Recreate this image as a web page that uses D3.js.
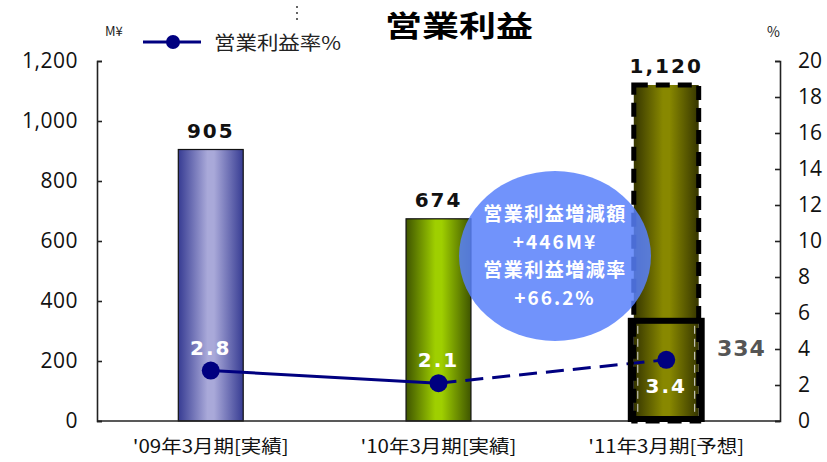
<!DOCTYPE html>
<html>
<head>
<meta charset="utf-8">
<script src="https://cdn.jsdelivr.net/npm/d3@7/dist/d3.min.js"></script>
<style>
  html, body { margin: 0; padding: 0; background: #fff; }
  svg { display: block; font-family: "Noto Sans CJK JP", "Noto Sans", sans-serif; }
</style>
</head>
<body>
<svg id="chart" width="827" height="462"></svg>
<script>
// Operating profit (M¥) and operating margin (%) by fiscal year
const categories = ["'09年3月期[実績]", "'10年3月期[実績]", "'11年3月期[予想]"];
const profit = [905, 674, 1120];
const margin = [2.8, 2.1, 3.4];
const profitLabels = ["905", "674", "1,120"];
const marginLabels = ["2.8", "2.1", "3.4"];
const leftTicks = [0, 200, 400, 600, 800, 1000, 1200];
const rightTicks = [0, 2, 4, 6, 8, 10, 12, 14, 16, 18, 20];
const forecastPart = 334;           // portion highlighted within the forecast bar
const bubbleLines = ["営業利益増減額", "+446M¥", "営業利益増減率", "+66.2%"];

const svg = d3.select("#chart");
const plotLeft = 97, plotRight = 780, plotTop = 61, plotBottom = 421;
const numFont = "'DejaVu Sans', Verdana, sans-serif";
const tickFont = "'Open Sans', 'Noto Sans', sans-serif";

const x = d3.scaleBand().domain(categories).range([plotLeft, plotRight]).paddingInner(0.715).paddingOuter(0.357);
const y = d3.scaleLinear().domain([0, 1200]).range([plotBottom, plotTop]);
const y2 = d3.scaleLinear().domain([0, 20]).range([plotBottom, plotTop]);
const cx = c => x(c) + x.bandwidth() / 2;

// horizontal gradients for the cylinder-like bars
const defs = svg.append("defs");
const gradStops = [
  ["g0", "#373c93", "#a9a9d9"],
  ["g1", "#3f5500", "#9fcf00"],
  ["g2", "#353500", "#888800"]
];
gradStops.forEach(([id, edge, mid]) => {
  const g = defs.append("linearGradient").attr("id", id).attr("x1", "0").attr("x2", "1").attr("y1", "0").attr("y2", "0");
  g.append("stop").attr("offset", "0%").attr("stop-color", edge);
  g.append("stop").attr("offset", "45%").attr("stop-color", mid);
  g.append("stop").attr("offset", "55%").attr("stop-color", mid);
  g.append("stop").attr("offset", "100%").attr("stop-color", edge);
});

// bars
svg.append("g").selectAll("rect").data(profit).join("rect")
  .attr("x", (d, i) => x(categories[i]))
  .attr("y", d => y(d))
  .attr("width", x.bandwidth())
  .attr("height", d => y(0) - y(d))
  .attr("fill", (d, i) => `url(#g${i})`)
  .attr("stroke", (d, i) => i === 2 ? "none" : "#111")
  .attr("stroke-width", 1.2);

// forecast bar: thick dashed outline
svg.append("rect")
  .attr("x", x(categories[2]))
  .attr("y", y(profit[2]))
  .attr("width", x.bandwidth())
  .attr("height", y(0) - y(profit[2]))
  .attr("fill", "none")
  .attr("stroke", "#000")
  .attr("stroke-width", 5)
  .attr("stroke-dasharray", "14,8");

// bar value labels
svg.append("g").selectAll("text").data(profit).join("text")
  .attr("x", (d, i) => cx(categories[i]))
  .attr("y", d => y(d) - 12)
  .attr("text-anchor", "middle")
  .attr("font-family", numFont)
  .attr("font-size", 20)
  .attr("font-weight", "bold")
  .attr("letter-spacing", 2)
  .attr("fill", "#111")
  .text((d, i) => profitLabels[i]);

// axes
const axL = svg.append("g").attr("transform", `translate(${plotLeft},0)`)
  .call(d3.axisRight(y).tickValues(leftTicks).tickSize(5).tickFormat(""));
const axR = svg.append("g").attr("transform", `translate(${plotRight},0)`)
  .call(d3.axisLeft(y2).tickValues(rightTicks).tickSize(5).tickFormat(""));
[axL, axR].forEach(a => {
  a.select(".domain").attr("stroke", "#222").attr("stroke-width", 1.6);
  a.selectAll(".tick line").attr("stroke", "#222").attr("stroke-width", 1.6);
});
svg.append("g").selectAll("text").data(leftTicks).join("text")
  .attr("x", 78).attr("y", d => y(d) + 7)
  .attr("text-anchor", "end").attr("font-size", 21).attr("fill", "#111")
  .attr("font-family", tickFont).attr("letter-spacing", 0.5)
  .text(d => d3.format(",")(d));
svg.append("g").selectAll("text").data(rightTicks).join("text")
  .attr("x", 798).attr("y", d => y2(d) + 7)
  .attr("text-anchor", "start").attr("font-size", 21).attr("fill", "#111")
  .attr("font-family", tickFont)
  .text(d => d);
svg.append("line").attr("x1", plotLeft).attr("x2", plotRight).attr("y1", plotBottom).attr("y2", plotBottom)
  .attr("stroke", "#222").attr("stroke-width", 1.6);

// category labels
svg.append("g").selectAll("text").data(categories).join("text")
  .attr("x", d => cx(d) - 78).attr("y", 453)
  .attr("font-size", 18).attr("fill", "#111")
  .attr("textLength", 156).attr("lengthAdjust", "spacingAndGlyphs")
  .text(d => d);

// change bubble
const bx = 555, by = 256;
svg.append("ellipse").attr("cx", bx).attr("cy", by).attr("rx", 96).attr("ry", 85)
  .attr("fill", "rgb(88,128,250)").attr("fill-opacity", 0.85);
svg.append("g").selectAll("text").data(bubbleLines).join("text")
  .attr("x", bx).attr("y", (d, i) => 221 + i * 28)
  .attr("text-anchor", "middle").attr("font-size", 19).attr("font-weight", "bold")
  .attr("fill", "#fff").attr("letter-spacing", (d, i) => i % 2 ? 2 : 1.5)
  .text(d => d);

// margin line: actual part solid, forecast part dashed
const pts = margin.map((m, i) => [cx(categories[i]), y2(m)]);
const line = d3.line();
svg.append("path").attr("d", line(pts.slice(0, 2))).attr("fill", "none")
  .attr("stroke", "#000080").attr("stroke-width", 3);
svg.append("path").attr("d", line(pts.slice(1, 3))).attr("fill", "none")
  .attr("stroke", "#000080").attr("stroke-width", 3).attr("stroke-dasharray", "18,9");

// highlight box for the forecast portion
const bw = x.bandwidth();
svg.append("rect")
  .attr("x", x(categories[2]) - 3).attr("y", y(forecastPart))
  .attr("width", bw + 6).attr("height", y(0) - y(forecastPart) - 2)
  .attr("fill", "none").attr("stroke", "#000").attr("stroke-width", 6);
svg.append("g").selectAll("line").data([0, bw]).join("line")
  .attr("x1", d => x(categories[2]) + d + (d ? -4 : 4)).attr("x2", d => x(categories[2]) + d + (d ? -4 : 4))
  .attr("y1", y(forecastPart) + 5).attr("y2", y(0) - 5)
  .attr("stroke", "#ddd").attr("stroke-width", 1).attr("stroke-dasharray", "8,5");
svg.append("text").attr("x", 717).attr("y", 356).attr("font-family", numFont)
  .attr("font-size", 22).attr("font-weight", "bold")
  .attr("fill", "#555").attr("letter-spacing", 1).text(forecastPart);

// markers and margin labels
svg.append("g").selectAll("circle").data(pts).join("circle")
  .attr("cx", d => d[0]).attr("cy", d => d[1]).attr("r", 9).attr("fill", "#000080");
svg.append("g").selectAll("text").data(margin).join("text")
  .attr("x", (d, i) => cx(categories[i]))
  .attr("y", (d, i) => i === 2 ? y2(d) + 33 : y2(d) - 16)
  .attr("text-anchor", "middle").attr("font-family", numFont)
  .attr("font-size", 20).attr("font-weight", "bold")
  .attr("fill", "#fff").attr("letter-spacing", 2)
  .text((d, i) => marginLabels[i]);

// title, units and legend
svg.append("text").attr("x", 385).attr("y", 37)
  .attr("font-size", 29).attr("font-weight", "bold").attr("fill", "#000")
  .attr("textLength", 148).attr("lengthAdjust", "spacingAndGlyphs").text("営業利益");
svg.append("text").attr("x", 105).attr("y", 36).attr("font-size", 13).attr("fill", "#222").text("M¥");
svg.append("text").attr("x", 767).attr("y", 37).attr("font-size", 14).attr("fill", "#222").text("%");
svg.append("line").attr("x1", 143).attr("x2", 201).attr("y1", 42).attr("y2", 42)
  .attr("stroke", "#000080").attr("stroke-width", 3);
svg.append("circle").attr("cx", 173).attr("cy", 42).attr("r", 7).attr("fill", "#000080");
svg.append("text").attr("x", 214).attr("y", 50).attr("font-size", 19).attr("fill", "#222")
  .attr("textLength", 127).attr("lengthAdjust", "spacingAndGlyphs").text("営業利益率%");
svg.append("line").attr("x1", 297).attr("x2", 297).attr("y1", 6).attr("y2", 21)
  .attr("stroke", "#333").attr("stroke-width", 1.5).attr("stroke-dasharray", "2,4");
</script>
</body>
</html>
